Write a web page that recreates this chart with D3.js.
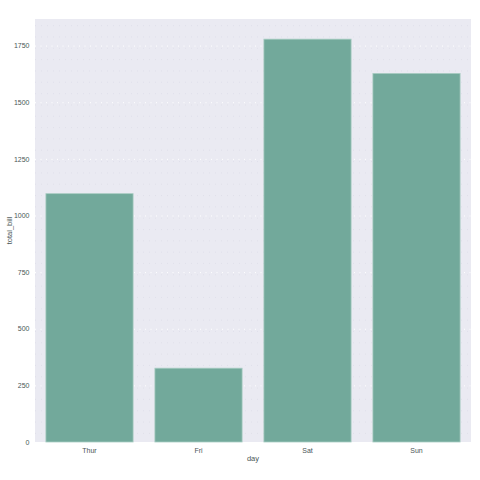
<!DOCTYPE html>
<html>
<head>
<meta charset="utf-8">
<script src="https://cdn.jsdelivr.net/npm/d3@7"></script>
<style>
  html, body { margin: 0; padding: 0; background: #ffffff; }
  svg { display: block; }
  text { font-family: "Liberation Sans", Arial, sans-serif; }
</style>
</head>
<body>
<svg id="chart" width="480" height="480"></svg>
<script>
const categories = ["Thur", "Fri", "Sat", "Sun"];
const totalBill = [1096.33, 325.88, 1778.40, 1627.16];
const yTicks = [0, 250, 500, 750, 1000, 1250, 1500, 1750];
const xLabel = "day";
const yLabel = "total_bill";

const W = 480, H = 480;
const margin = { left: 35, right: 9, top: 19, bottom: 38 };
const svg = d3.select("#chart");

const x = d3.scaleBand()
  .domain(categories)
  .range([margin.left, W - margin.right])
  .paddingInner(0.2)
  .paddingOuter(0.1);

const yMax = d3.max(totalBill) * 1.05;
const y = d3.scaleLinear().domain([0, yMax]).range([H - margin.bottom, margin.top]);

const textColor = "#4a5656";

// background
svg.append("rect")
  .attr("x", margin.left).attr("y", margin.top)
  .attr("width", W - margin.left - margin.right)
  .attr("height", H - margin.top - margin.bottom)
  .attr("fill", "#eaeaf2");

// minor grid
const minorTicks = [];
for (let v = 38; v < yMax; v += 50) {
  if (!yTicks.some(t => Math.abs(t - v) < 1)) minorTicks.push(v);
}
svg.append("g").selectAll("line").data(minorTicks).join("line")
  .attr("x1", margin.left).attr("x2", W - margin.right)
  .attr("y1", d => y(d)).attr("y2", d => y(d))
  .attr("stroke", "#d6d6e2").attr("stroke-width", 0.7)
  .attr("stroke-dasharray", "0.7,5.3");

// major grid (axis)
const yAxis = d3.axisLeft(y).tickValues(yTicks).tickSize(0).tickPadding(5.5)
  .tickFormat(d3.format("d"));
const gy = svg.append("g").attr("transform", `translate(${margin.left},0)`).call(yAxis);
gy.select(".domain").remove();
gy.selectAll(".tick line").clone()
  .attr("x2", W - margin.left - margin.right)
  .attr("stroke", "#ffffff").attr("stroke-width", 1)
  .attr("stroke-dasharray", "1,4.5");
gy.selectAll("text").attr("fill", textColor).attr("font-size", 7);

// bars
svg.append("g").selectAll("rect").data(categories).join("rect")
  .attr("x", d => x(d))
  .attr("width", x.bandwidth())
  .attr("y", (d, i) => y(totalBill[i]))
  .attr("height", (d, i) => y(0) - y(totalBill[i]))
  .attr("fill", "#72a99b")
  .attr("stroke", "#a9cdc3")
  .attr("stroke-width", 0.8);

// x axis
const xAxis = d3.axisBottom(x).tickSize(0).tickPadding(6);
const gx = svg.append("g").attr("transform", `translate(0,${H - margin.bottom})`).call(xAxis);
gx.select(".domain").remove();
gx.selectAll("text").attr("fill", textColor).attr("font-size", 7);

// axis labels
svg.append("text")
  .attr("x", (margin.left + W - margin.right) / 2)
  .attr("y", 461)
  .attr("text-anchor", "middle")
  .attr("fill", textColor).attr("font-size", 7.5)
  .text(xLabel);

svg.append("text")
  .attr("transform", `translate(12,${(margin.top + H - margin.bottom) / 2}) rotate(-90)`)
  .attr("text-anchor", "middle")
  .attr("fill", textColor).attr("font-size", 7.5)
  .text(yLabel);
</script>
</body>
</html>
